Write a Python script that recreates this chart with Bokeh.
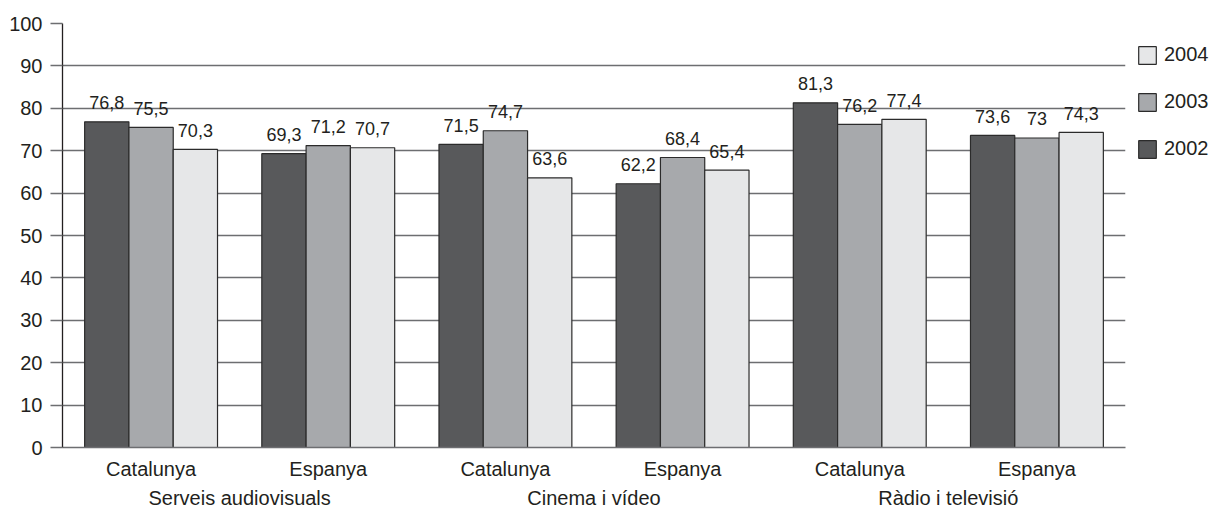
from bokeh.plotting import figure
from bokeh.models import FactorRange, ColumnDataSource, Legend, LegendItem, FixedTicker, Range1d
from bokeh.transform import dodge
from bokeh.core.properties import value
from bokeh.embed import file_html
from bokeh.resources import INLINE

sectors = ["Serveis audiovisuals", "Cinema i vídeo", "Ràdio i televisió"]
regions = ["Catalunya", "Espanya"]
years = ["2002", "2003", "2004"]
v2002 = [76.8, 69.3, 71.5, 62.2, 81.3, 73.6]
v2003 = [75.5, 71.2, 74.7, 68.4, 76.2, 73.0]
v2004 = [70.3, 70.7, 63.6, 65.4, 77.4, 74.3]
y_ticks = [0, 10, 20, 30, 40, 50, 60, 70, 80, 90, 100]

FONT = "Liberation Sans"
TXT = "#231f20"
GRID = "#6d6e71"
colors = {"2002": "#58595b", "2003": "#a7a9ac", "2004": "#e6e7e8"}

def fmt(v):
    return f"{v:g}".replace(".", ",")

factors = [(s, r) for s in sectors for r in regions]
src = ColumnDataSource(dict(
    x=factors,
    v2002=v2002, v2003=v2003, v2004=v2004,
    l2002=[fmt(v) for v in v2002],
    l2003=[fmt(v) for v in v2003],
    l2004=[fmt(v) for v in v2004],
))

p = figure(
    x_range=FactorRange(*factors, factor_padding=0, group_padding=0, range_padding=0),
    y_range=Range1d(0, 100),
    frame_width=1063, frame_height=424,
    output_backend="svg", toolbar_location=None,
    min_border_left=62, min_border_right=95, min_border_top=23, min_border_bottom=65,
)
p.outline_line_color = None
p.background_fill_color = "white"

offsets = {"2002": -0.25, "2003": 0.0, "2004": 0.25}
renderers = {}
for yr in years:
    r = p.vbar(x=dodge("x", offsets[yr], range=p.x_range), top="v" + yr, width=0.25,
               source=src, fill_color=colors[yr], line_color="#2b2b2b", line_width=1.2)
    renderers[yr] = r
    p.text(x=dodge("x", offsets[yr], range=p.x_range), y="v" + yr, text="l" + yr,
           source=src, text_align="center", text_baseline="alphabetic", y_offset=-19,
           text_font=value(FONT), text_font_size="18px", text_color=TXT)

# grid
p.xgrid.grid_line_color = None
p.ygrid.ticker = FixedTicker(ticks=y_ticks)
p.ygrid.grid_line_color = GRID
p.ygrid.grid_line_width = 1.3

# y axis
p.yaxis.ticker = FixedTicker(ticks=y_ticks)
p.yaxis.major_tick_in = 0
p.yaxis.major_tick_out = 12
p.yaxis.major_tick_line_color = GRID
p.yaxis.major_tick_line_width = 1.3
p.yaxis.minor_tick_line_color = None
p.yaxis.axis_line_color = TXT
p.yaxis.axis_line_width = 1.3
p.yaxis.major_label_standoff = 8
p.yaxis.major_label_text_font = FONT
p.yaxis.major_label_text_font_size = "20px"
p.yaxis.major_label_text_color = TXT

# x axis
p.xaxis.major_tick_line_color = None
p.xaxis.minor_tick_line_color = None
p.xaxis.axis_line_color = GRID
p.xaxis.axis_line_width = 1.3
p.xaxis.major_label_standoff = 4
p.xaxis.major_label_text_font = FONT
p.xaxis.major_label_text_font_size = "20px"
p.xaxis.major_label_text_color = TXT
p.xaxis.group_text_font = FONT
p.xaxis.group_text_font_size = "20px"
p.xaxis.group_text_font_style = "normal"
p.xaxis.group_text_color = TXT
p.xaxis.separator_line_alpha = 0

legend = Legend(
    items=[LegendItem(label=yr, renderers=[renderers[yr]]) for yr in ["2004", "2003", "2002"]],
    location="top_left", orientation="vertical",
    title=" ", title_text_font_size="6px", title_standoff=3,
    glyph_width=22, glyph_height=22, spacing=24, padding=0, margin=11,
    label_standoff=6, label_text_font=FONT, label_text_font_size="20px",
    label_text_color=TXT, border_line_color=None, background_fill_alpha=0,
)
p.add_layout(legend, "right")

open("out.html", "w").write(file_html(p, INLINE))
